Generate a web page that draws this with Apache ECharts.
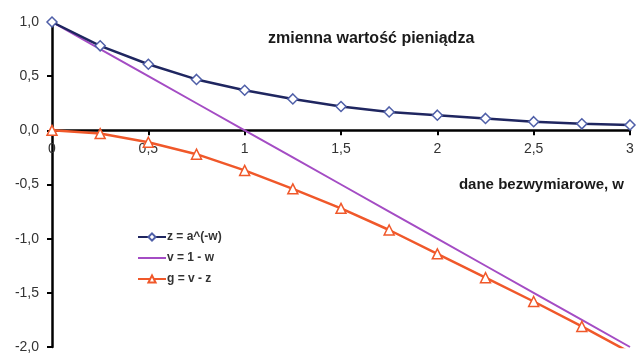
<!DOCTYPE html>
<html>
<head>
<meta charset="utf-8">
<title>zmienna wartość pieniądza</title>
<script src="https://cdn.jsdelivr.net/npm/echarts@6/dist/echarts.min.js"></script>
<style>
  html, body { margin: 0; padding: 0; background: #fff; }
  #chart { width: 637px; height: 354px; }
</style>
</head>
<body>
<div id="chart"></div>
<script>
// dane
const wValues = [0, 0.25, 0.5, 0.75, 1, 1.25, 1.5, 1.75, 2, 2.25, 2.5, 2.75, 3]
const zValues = [1, 0.78, 0.61, 0.47, 0.37, 0.29, 0.22, 0.17, 0.14, 0.11, 0.08, 0.06, 0.05]
const vValues = [1, 0.75, 0.5, 0.25, 0, -0.25, -0.5, -0.75, -1, -1.25, -1.5, -1.75, -2]
const gValues = [0, -0.03, -0.11, -0.22, -0.37, -0.54, -0.72, -0.92, -1.14, -1.36, -1.58, -1.81, -2.05]
const seriesNames = ['z = a^(-w)', 'v = 1 - w', 'g = v - z']

const pairs = (ys) => wValues.map((w, i) => [w, ys[i]])
const comma = (v) => String(v).replace('.', ',')

const chart = echarts.init(document.getElementById('chart'))

// wysokość siatki i położenie zera, żeby oś X z etykietami leżała na y = 0
const gridTop = 22
const gridBottom = 7
const gridH = 354 - gridTop - gridBottom
const zeroOffset = -gridH * (2 / 3)

chart.setOption({
  backgroundColor: '#fff',
  animation: false,
  textStyle: { fontFamily: 'Liberation Sans, Arial, sans-serif' },
  title: [
    {
      text: 'zmienna wartość pieniądza',
      left: 263,
      top: 26,
      textStyle: { fontSize: 16, fontWeight: 'bold', color: '#1a1a1a' }
    },
    {
      text: 'dane bezwymiarowe, w',
      right: 8,
      top: 172,
      textStyle: { fontSize: 15, fontWeight: 'bold', color: '#1a1a1a' }
    }
  ],
  legend: {
    orient: 'vertical',
    left: 132,
    top: 226,
    itemWidth: 28,
    itemHeight: 9,
    itemGap: 9,
    textStyle: { fontSize: 12, fontWeight: 'bold', color: '#333', padding: [0, 0, 0, -4] },
    data: [
      seriesNames[0],
      { name: seriesNames[1], itemStyle: { opacity: 0 } },
      seriesNames[2]
    ]
  },
  grid: { left: 52, right: 7, top: gridTop, bottom: gridBottom },
  xAxis: {
    type: 'value',
    position: 'bottom',
    offset: zeroOffset,
    min: 0,
    max: 3,
    interval: 0.5,
    axisLine: { onZero: false, lineStyle: { color: '#000', width: 2.5 } },
    axisTick: { show: true, inside: false, length: 5, lineStyle: { color: '#000', width: 2 } },
    axisLabel: { color: '#333', fontSize: 14, margin: 12, formatter: comma },
    splitLine: { show: false }
  },
  yAxis: {
    type: 'value',
    min: -2,
    max: 1,
    interval: 0.5,
    axisLine: { show: true, onZero: false, lineStyle: { color: '#000', width: 2.5 } },
    axisTick: { show: true, length: 5, lineStyle: { color: '#000', width: 2 } },
    axisLabel: { color: '#333', fontSize: 14, margin: 13, formatter: (v) => comma(v.toFixed(1)) },
    splitLine: { show: false }
  },
  series: [
    {
      name: seriesNames[0],
      type: 'line',
      data: pairs(zValues),
      symbol: 'diamond',
      symbolSize: 10,
      showAllSymbol: true,
      z: 3,
      lineStyle: { color: '#1f2660', width: 2.5 },
      itemStyle: { color: '#fff', borderColor: '#4f5fa8', borderWidth: 1.5 }
    },
    {
      name: seriesNames[1],
      type: 'line',
      data: pairs(vValues),
      symbol: 'none',
      z: 2,
      lineStyle: { color: '#a44cc4', width: 2 },
      itemStyle: { color: '#a44cc4' }
    },
    {
      name: seriesNames[2],
      type: 'line',
      data: pairs(gValues),
      symbol: 'triangle',
      symbolSize: 10,
      showAllSymbol: true,
      z: 2,
      lineStyle: { color: '#f0582a', width: 2.5 },
      itemStyle: { color: '#fff', borderColor: '#f0582a', borderWidth: 1.5 }
    }
  ]
})
</script>
</body>
</html>
